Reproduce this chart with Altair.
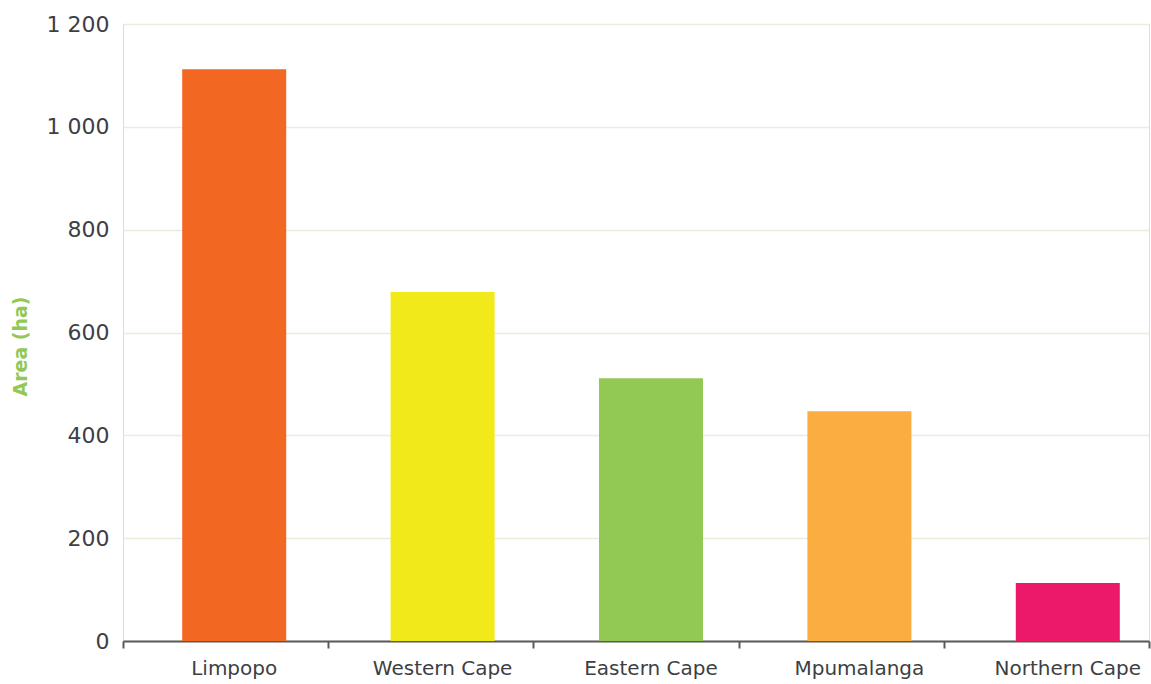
import altair as alt
import pandas as pd

provinces = ["Limpopo", "Western Cape", "Eastern Cape", "Mpumalanga", "Northern Cape"]
area_ha = [1112, 679, 511, 447, 113]
bar_colors = ["#f26722", "#f2e91a", "#92c854", "#fbad3f", "#ec1868"]

df = pd.DataFrame({"province": provinces, "area": area_ha})

FONT = "DejaVu Sans"
TEXT = "#3d3f45"
AXIS_LINE = "#5a5a5a"

y_enc = alt.Y(
    "area:Q",
    scale=alt.Scale(domain=[0, 1200], nice=False),
    axis=alt.Axis(
        title="Area (ha)",
        titleFont=FONT,
        titleFontSize=19,
        titleFontWeight="bold",
        titleColor="#92c854",
        titleX=-93,
        titleY=322,
        values=[0, 200, 400, 600, 800, 1000, 1200],
        labelExpr="replace(format(datum.value, ','), ',', ' ')",
        labelFont=FONT,
        labelFontSize=22,
        labelColor=TEXT,
        labelPadding=14,
        ticks=False,
        domain=False,
        grid=True,
        gridColor="#e6efd9",
        gridWidth=1.5,
    ),
)

# Bars and category labels
bars = (
    alt.Chart(df)
    .mark_bar(size=104)
    .encode(
        x=alt.X(
            "province:N",
            sort=provinces,
            scale=alt.Scale(range=[7, 1049], paddingInner=0, paddingOuter=0),
            axis=alt.Axis(
                title=None,
                orient="bottom",
                labelAngle=0,
                labelFont=FONT,
                labelFontSize=20,
                labelColor=TEXT,
                labelPadding=17,
                domain=False,
                ticks=False,
                grid=False,
            ),
        ),
        y=y_enc,
        color=alt.Color(
            "province:N",
            scale=alt.Scale(domain=provinces, range=bar_colors),
            legend=None,
        ),
    )
)

# Baseline with tick marks between categories
frame = (
    alt.Chart(df)
    .mark_bar(opacity=0)
    .encode(
        x=alt.X(
            "province:N",
            sort=provinces,
            scale=alt.Scale(paddingInner=0, paddingOuter=0),
            axis=alt.Axis(
                title=None,
                orient="bottom",
                labels=False,
                domainColor=AXIS_LINE,
                domainWidth=2,
                tickColor=AXIS_LINE,
                tickWidth=2,
                tickSize=7,
                tickBand="extent",
                grid=False,
            ),
        ),
        y=y_enc,
    )
)

chart = (
    alt.layer(frame, bars)
    .resolve_scale(x="independent")
    .properties(
        width=1026,
        height=617,
        autosize=alt.AutoSizeParams(type="none"),
        padding={"left": 123, "top": 24, "right": 2, "bottom": 43},
    )
    .configure_view(stroke="transparent", strokeWidth=0)
    .configure_axis(grid=False)
    .configure_axisY(grid=True)
    .configure(background="white")
)

chart.save("out.html", embed_options={"renderer": "svg", "actions": False})
